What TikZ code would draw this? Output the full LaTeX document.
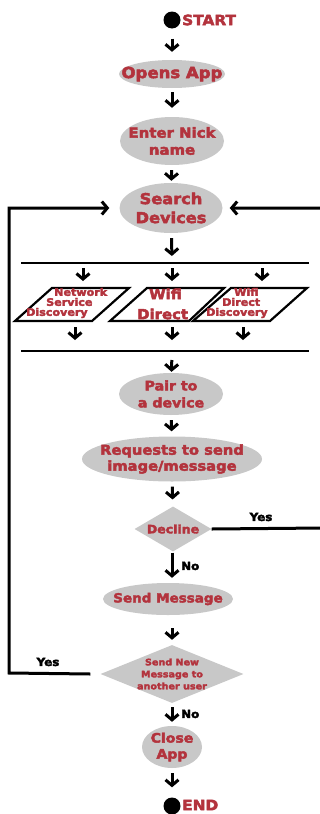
\documentclass[tikz,border=0pt]{standalone}
\usepackage{fontspec}
\setmainfont{DejaVu Sans}[BoldFeatures={FakeBold=3.2, FakeStretch=1.08}]
\usetikzlibrary{arrows.meta,shapes.geometric}
\definecolor{txtred}{HTML}{B3333D}
\definecolor{fillgray}{HTML}{C8C8C8}
\newcommand{\fs}[2]{\fontsize{#1}{#2}\selectfont}
\begin{document}
\begin{tikzpicture}[x=1pt,y=-1pt,
  lbl/.style={font=\bfseries, text=txtred, align=center, inner sep=0pt},
  oval/.style={ellipse, fill=fillgray, inner sep=0pt},
  dia/.style={diamond, fill=fillgray, inner sep=0pt},
  dot/.style={circle, fill=black, inner sep=0pt, minimum size=17pt},
  arr/.style={line width=3pt, -{Straight Barb[length=5.5pt,width=13pt]}},
  thick line/.style={line width=2.8pt},
  pgram/.style={draw=black, fill=white, line width=2.2pt, line join=miter},
  yn/.style={font=\bfseries\fs{11}{12}, text=black, inner sep=0pt}]
\useasboundingbox (0,0) rectangle (320,814);

% start / end
\node[dot] (start) at (172,20) {};
\node[lbl, anchor=west, font=\bfseries\fs{14.2}{16}] (startT) at (182,20) {START};
\node[dot] (end) at (172,806) {};
\node[lbl, anchor=west, font=\bfseries\fs{14.2}{16}] (endT) at (182,805) {END};

% process ovals
\node[oval, minimum width=106pt, minimum height=28pt,
  label={[lbl, font=\bfseries\fs{15.3}{17}]center:Opens App}] (open) at (172,74) {};
\node[oval, minimum width=104pt, minimum height=48pt,
  label={[lbl, font=\bfseries\fs{13.8}{17}]center:Enter Nick\\name}] (nick) at (172,141) {};
\node[oval, minimum width=103pt, minimum height=50pt,
  label={[lbl, font=\bfseries\fs{15}{19}]center:Search\\Devices}] (search) at (171,208) {};
\node[oval, minimum width=104pt, minimum height=42pt,
  label={[lbl, font=\bfseries\fs{13.1}{17}]center:Pair to\\a device}] (pair) at (171,394) {};
\node[oval, minimum width=180pt, minimum height=45pt,
  label={[lbl, font=\bfseries\fs{13.6}{16}]center:Requests to send\\image/message}] (req) at (172,459) {};
\node[oval, minimum width=130pt, minimum height=32pt,
  label={[lbl, font=\bfseries\fs{12.5}{16}]center:Send Message}] (send) at (168,599) {};
\node[oval, minimum width=60pt, minimum height=42pt,
  label={[lbl, font=\bfseries\fs{13}{16}]center:Close\\App}] (close) at (172,747) {};

% decisions
\node[dia, minimum width=77pt, minimum height=45pt,
  label={[lbl, font=\bfseries\fs{11.6}{14}]center:Decline}] (decl) at (173,529) {};
\node[dia, minimum width=143pt, minimum height=58pt,
  label={[lbl, font=\bfseries\fs{8.9}{12}]center:Send New\\Message to\\another user}] (snm) at (172,674) {};

% bars
\coordinate (b1l) at (21,263);  \coordinate (b1r) at (309,263);
\coordinate (b2l) at (21,351);  \coordinate (b2r) at (309,351);
\coordinate (b1) at (172,263);  \coordinate (b2) at (172,351);
\draw[thick line] (b1l) -- (b1r);
\draw[thick line] (b2l) -- (b2r);

% parallelograms
\draw[pgram] (52,288) -- (129,288) -- (92,321) -- (15,321) -- cycle;
\draw[pgram] (147,288) -- (224,288) -- (189,321) -- (110,321) -- cycle;
\draw[pgram] (231,288) -- (307,288) -- (270,321) -- (193,321) -- cycle;
\node[lbl, anchor=west, align=left, font=\bfseries\fs{10.3}{10}] (p1) at (26,303)
  {\hspace*{28pt}Network\\\hspace*{20pt}Service\\Discovery};
\node[lbl, anchor=west, align=left, font=\bfseries\fs{13.8}{20}] (p2) at (137,304)
  {\hspace*{12pt}Wifi\\Direct};
\node[lbl, anchor=west, align=left, font=\bfseries\fs{10.3}{10}] (p3) at (206,303)
  {\hspace*{28pt}Wifi\\\hspace*{16pt}Direct\\Discovery};

\coordinate (b1a) at (83,263);  \coordinate (p1t) at (83,288);
\coordinate (b1c) at (262,263); \coordinate (p3t) at (262,288);
\coordinate (p2t) at (172,288);
\coordinate (p1b) at (75,321);  \coordinate (b2a) at (75,351);
\coordinate (p2b) at (172,321);
\coordinate (p3b) at (243,321); \coordinate (b2c) at (243,351);

% main arrows
\draw[arr, shorten <=10pt, shorten >=8pt] (start) -- (open);
\draw[arr, shorten <=4pt, shorten >=9pt] (open) -- (nick);
\draw[arr, shorten <=5pt, shorten >=2pt] (nick) -- (search);
\draw[arr, shorten <=5pt, shorten >=7pt] (search) -- (b1);
\draw[arr, shorten <=5pt, shorten >=7pt] (b1a) -- (p1t);
\draw[arr, shorten <=5pt, shorten >=7pt] (b1) -- (p2t);
\draw[arr, shorten <=5pt, shorten >=7pt] (b1c) -- (p3t);
\draw[arr, shorten <=6pt, shorten >=11pt] (p1b) -- (b2a);
\draw[arr, shorten <=6pt, shorten >=11pt] (p2b) -- (b2);
\draw[arr, shorten <=6pt, shorten >=11pt] (p3b) -- (b2c);
\draw[arr, shorten <=9pt, shorten >=1pt] (b2) -- (pair);
\draw[arr, shorten <=5pt, shorten >=5pt] (pair) -- (req);
\draw[arr, shorten <=5pt, shorten >=7pt] (req) -- (decl);
\draw[arr, shorten <=1pt, shorten >=5pt] (decl.south -| start) -- (send.north -| start);
\draw[arr, shorten <=13pt, shorten >=5pt] (send.south -| start) -- (snm);
\draw[arr, shorten <=4pt, shorten >=4pt] (snm) -- (close);
\draw[arr, shorten <=5pt, shorten >=10pt] (close) -- (end);

% loop-back connectors
\coordinate (L) at (9,673);
\coordinate (R) at (323,528);
\draw[arr, line join=miter] ([xshift=-10pt]snm.west) -- (L) |- ([xshift=-10pt]search.west);
\draw[arr, line join=miter] (decl.east) -- (R) |- ([xshift=7pt]search.east);

% yes / no labels
\node[yn] (yes1) at (261,517) {Yes};
\node[yn] (yes2) at (48,662) {Yes};
\node[yn, anchor=west] (no1) at (181,566) {No};
\node[yn, anchor=west] (no2) at (181,714) {No};
\end{tikzpicture}
\end{document}
